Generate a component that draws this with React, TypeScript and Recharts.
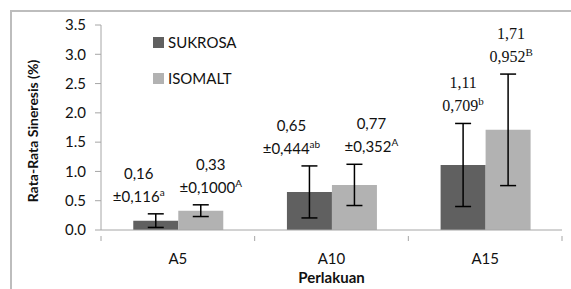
import React from 'react';
import { BarChart, Bar, XAxis, YAxis, ErrorBar, LabelList } from 'recharts';

// Data
const categories = ['A5', 'A10', 'A15'];
const sukrosaMean = [0.16, 0.65, 1.11];
const isomaltMean = [0.33, 0.77, 1.71];
const sukrosaSd = [0.116, 0.444, 0.709];
const isomaltSd = [0.1, 0.352, 0.952];
const sukrosaMeanText = ['0,16', '0,65', '1,11'];
const isomaltMeanText = ['0,33', '0,77', '1,71'];
const sukrosaSdText = ['±0,116', '±0,444', '0,709'];
const isomaltSdText = ['±0,1000', '±0,352', '0,952'];
const sukrosaLetters = ['a', 'ab', 'b'];
const isomaltLetters = ['A', 'A', 'B'];
const serifCategories = ['A15'];
const yTicks = [0, 0.5, 1, 1.5, 2, 2.5, 3, 3.5];

// horizontal nudges of the data labels (they were moved by hand in the original)
const sukrosaLabelShift = [-17, -18, 0];
const isomaltLabelShift = [10, 17, 3];

const data = categories.map((c, i) => ({
  name: c,
  sukrosa: sukrosaMean[i],
  isomalt: isomaltMean[i],
  sukrosaSd: sukrosaSd[i],
  isomaltSd: isomaltSd[i],
}));

const SANS = 'Lato, "Open Sans", sans-serif';
const SERIF = '"Liberation Serif", "DejaVu Serif", serif';
const AXIS = '#a6a6a6';

const makeLabel = (
  meanText: string[],
  sdText: string[],
  letters: string[],
  sds: number[],
  means: number[],
  shift: number[],
) =>
  (props: any) => {
    const { x, y, width, height, index } = props;
    const cx = x + width / 2 + shift[index];
    const errTop = y - (sds[index] * height) / means[index];
    const serif = serifCategories.includes(categories[index]);
    const line2 = errTop - 12;
    const line1 = line2 - 23;
    return (
      <g fontFamily={serif ? SERIF : SANS} fontSize={serif ? 16 : 15} fill="#111">
        <text x={cx} y={line1} textAnchor="middle">{meanText[index]}</text>
        <text x={cx} y={line2} textAnchor="middle">
          {sdText[index]}
          <tspan fontSize={serif ? 11 : 10} dy={-6}>{letters[index]}</tspan>
        </text>
      </g>
    );
  };

const XTick = (props: any) => {
  const { x, y, payload, index } = props;
  const half = payload?.offset ? payload.offset : 153.7 / 2;
  return (
    <g>
      <line x1={x - half} x2={x - half} y1={y - 2} y2={y + 3} stroke={AXIS} />
      {index === categories.length - 1 && (
        <line x1={x + half} x2={x + half} y1={y - 2} y2={y + 3} stroke={AXIS} />
      )}
      <text x={x} y={y + 26} textAnchor="middle" fontFamily={SANS} fontSize={15} fill="#111">
        {payload.value}
      </text>
    </g>
  );
};

const legendItems = [
  { label: 'SUKROSA', color: '#606060' },
  { label: 'ISOMALT', color: '#b2b2b2' },
];

const YLabel = () => {
  const x = 32;
  const y = 131;
  return (
    <text
      x={x}
      y={y}
      transform={`rotate(-90 ${x} ${y})`}
      textAnchor="middle"
      dominantBaseline="central"
      fontFamily={SANS}
      fontSize={14}
      fontWeight="bold"
      fill="#111"
    >
      Rata-Rata Sineresis (%)
    </text>
  );
};

export default function App() {
  return (
    <div style={{ position: 'fixed', left: 0, top: 0, width: 571, height: 289, background: '#fff', overflow: 'hidden' }}>
      <div style={{ position: 'absolute', left: 10, top: 10, width: 620, height: 320, border: '2px solid #bdbdbd', boxSizing: 'border-box' }} />
      <BarChart
        width={571}
        height={289}
        data={data}
        margin={{ top: 25, right: 9, left: 11, bottom: 4 }}
        barCategoryGap="21%"
        barGap={0}
      >
        <XAxis
          dataKey="name"
          stroke={AXIS}
          tickLine={false}
          tick={<XTick />}
          height={55}
          label={{ value: 'Perlakuan', position: 'insideBottom', offset: 2, fontFamily: SANS, fontSize: 15, fontWeight: 'bold', fill: '#111' }}
        />
        <YAxis
          domain={[0, 3.5]}
          ticks={yTicks}
          interval={0}
          width={90}
          stroke={AXIS}
          tickSize={6}
          tickMargin={9}
          tick={{ fontFamily: SANS, fontSize: 15, fill: '#111' }}
          tickFormatter={(v: number) => v.toFixed(1)}
          label={<YLabel />}
        />
        <Bar dataKey="sukrosa" name="SUKROSA" fill="#606060" isAnimationActive={false}>
          <ErrorBar dataKey="sukrosaSd" width={8} stroke="#000" strokeWidth={1.5} />
          <LabelList content={makeLabel(sukrosaMeanText, sukrosaSdText, sukrosaLetters, sukrosaSd, sukrosaMean, sukrosaLabelShift)} />
        </Bar>
        <Bar dataKey="isomalt" name="ISOMALT" fill="#b2b2b2" isAnimationActive={false}>
          <ErrorBar dataKey="isomaltSd" width={8} stroke="#000" strokeWidth={1.5} />
          <LabelList content={makeLabel(isomaltMeanText, isomaltSdText, isomaltLetters, isomaltSd, isomaltMean, isomaltLabelShift)} />
        </Bar>
      </BarChart>
      <div style={{ position: 'absolute', left: 153, top: 32, fontFamily: SANS, fontSize: 15, color: '#111' }}>
        {legendItems.map((it) => (
          <div key={it.label} style={{ display: 'flex', alignItems: 'center', height: 20, marginBottom: 16 }}>
            <span style={{ width: 11, height: 11, background: it.color, display: 'inline-block', marginRight: 4 }} />
            <span>{it.label}</span>
          </div>
        ))}
      </div>
    </div>
  );
}
